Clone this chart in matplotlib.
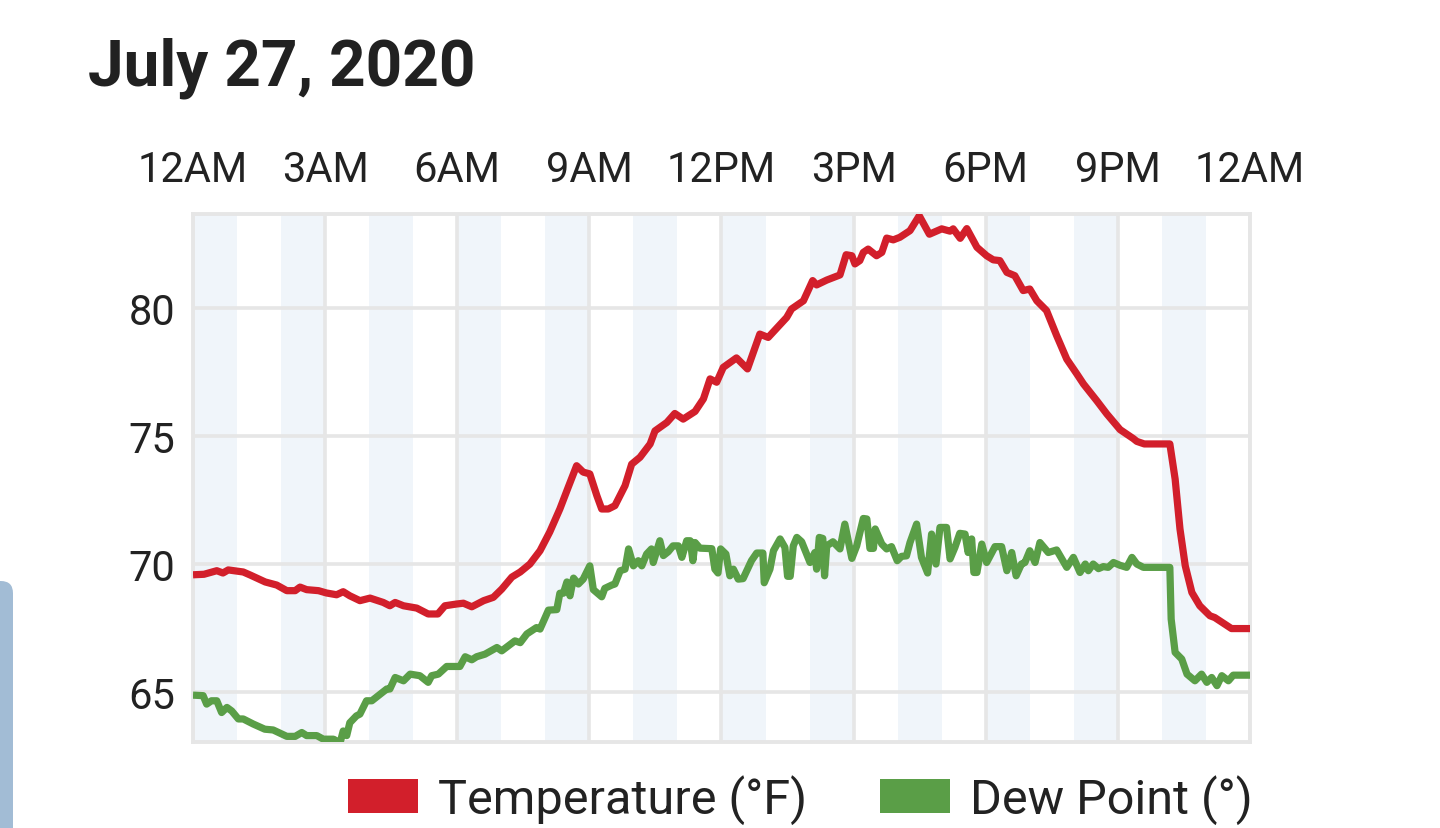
import matplotlib.pyplot as plt
from matplotlib.patches import Patch, FancyBboxPatch

plt.rcParams['font.family'] = ['Roboto', 'DejaVu Sans']

title = "July 27, 2020"
tick_hours = [0, 3, 6, 9, 12, 15, 18, 21, 24]
tick_labels = ["12AM", "3AM", "6AM", "9AM", "12PM", "3PM", "6PM", "9PM", "12AM"]
y_ticks = [65, 70, 75, 80]

# hours since midnight, temperature (°F)
temp_hours = [
    0.0, 0.25, 0.54, 0.68, 0.8, 1.14, 1.3, 1.64, 1.9, 2.13, 2.32, 2.43, 2.58, 2.85,
    3.03, 3.26, 3.41, 3.56, 3.79, 4.02, 4.32, 4.47, 4.59, 4.78, 5.08, 5.34, 5.56,
    5.72, 5.99, 6.14, 6.33, 6.6, 6.82, 7.01, 7.24, 7.43, 7.65, 7.88, 8.1, 8.33,
    8.52, 8.71, 8.86, 9.01, 9.17, 9.28, 9.43, 9.58, 9.81, 9.96, 10.15, 10.38,
    10.49, 10.76, 10.94, 11.13, 11.4, 11.59, 11.74, 11.89, 12.04, 12.34, 12.59,
    12.87, 13.06, 13.48, 13.59, 13.86, 14.07, 14.16, 14.39, 14.69, 14.83, 14.96,
    15.03, 15.14, 15.22, 15.33, 15.52, 15.64, 15.75, 15.9, 16.05, 16.28, 16.49,
    16.72, 17.0, 17.19, 17.26, 17.42, 17.57, 17.8, 18.02, 18.17, 18.32, 18.48,
    18.66, 18.85, 19.0, 19.16, 19.38, 19.61, 19.84, 20.07, 20.22, 20.52, 20.75,
    21.05, 21.35, 21.43, 21.6, 22.18, 22.3, 22.41, 22.53, 22.68, 22.86, 23.09,
    23.2, 23.58, 24.0,
]
temperature = [
    69.58, 69.6, 69.74, 69.65, 69.77, 69.69, 69.57, 69.3, 69.18, 68.96, 68.96, 69.1,
    69.0, 68.96, 68.87, 68.8, 68.92, 68.76, 68.57, 68.67, 68.5, 68.37, 68.5, 68.37,
    68.28, 68.05, 68.05, 68.37, 68.44, 68.47, 68.33, 68.57, 68.7, 69.02, 69.49,
    69.69, 70.0, 70.52, 71.25, 72.15, 73.0, 73.84, 73.59, 73.52, 72.67, 72.15,
    72.15, 72.28, 73.06, 73.9, 74.17, 74.69, 75.2, 75.53, 75.88, 75.66, 75.96,
    76.45, 77.23, 77.1, 77.68, 78.05, 77.62, 78.98, 78.85, 79.63, 79.96, 80.28,
    81.07, 80.9, 81.09, 81.29, 82.08, 82.04, 81.72, 81.85, 82.17, 82.3, 82.04,
    82.17, 82.73, 82.66, 82.76, 83.02, 83.6, 82.88, 83.09, 83.0, 83.09, 82.72,
    83.1, 82.37, 82.04, 81.88, 81.85, 81.39, 81.26, 80.68, 80.74, 80.28, 79.9,
    78.92, 78.0, 77.42, 77.03, 76.38, 75.86, 75.25, 74.9, 74.79, 74.69, 74.69,
    73.32, 71.37, 69.93, 68.89, 68.37, 67.98, 67.91, 67.48, 67.48,
]

# hours since midnight, dew point (°)
dew_hours = [
    0.0, 0.23, 0.31, 0.42, 0.54, 0.65, 0.77, 0.88, 1.03, 1.14, 1.37, 1.63, 1.82,
    2.13, 2.32, 2.47, 2.58, 2.81, 2.96, 3.19, 3.34, 3.41, 3.49, 3.56, 3.71, 3.79,
    3.94, 4.06, 4.25, 4.4, 4.47, 4.59, 4.78, 4.93, 5.15, 5.34, 5.42, 5.57, 5.76,
    6.06, 6.18, 6.33, 6.44, 6.63, 6.9, 7.01, 7.31, 7.43, 7.58, 7.8, 7.88, 8.07,
    8.26, 8.33, 8.41, 8.49, 8.56, 8.64, 8.75, 8.86, 9.01, 9.09, 9.28, 9.35, 9.51,
    9.58, 9.7, 9.81, 9.89, 10.0, 10.11, 10.19, 10.3, 10.41, 10.45, 10.6, 10.68,
    10.79, 10.9, 11.02, 11.1, 11.21, 11.29, 11.35, 11.4, 11.51, 11.78, 11.85,
    11.92, 11.98, 12.1, 12.19, 12.27, 12.38, 12.49, 12.68, 12.8, 12.94, 12.97,
    13.1, 13.18, 13.33, 13.44, 13.5, 13.56, 13.63, 13.71, 13.82, 14.01, 14.12,
    14.16, 14.22, 14.3, 14.34, 14.39, 14.53, 14.69, 14.8, 14.96, 15.07, 15.22,
    15.3, 15.37, 15.45, 15.49, 15.64, 15.75, 15.86, 15.99, 16.09, 16.2, 16.28,
    16.43, 16.54, 16.68, 16.77, 16.87, 16.96, 17.11, 17.19, 17.3, 17.41, 17.53,
    17.6, 17.68, 17.73, 17.8, 17.91, 18.02, 18.21, 18.36, 18.48, 18.59, 18.69,
    18.81, 18.89, 19.0, 19.12, 19.23, 19.42, 19.61, 19.84, 19.99, 20.14, 20.26,
    20.33, 20.44, 20.56, 20.67, 20.78, 20.9, 21.05, 21.2, 21.32, 21.43, 21.58,
    22.18, 22.21, 22.3, 22.45, 22.57, 22.75, 22.9, 23.02, 23.13, 23.25, 23.36,
    23.51, 23.62, 24.0,
]
dew_point = [
    64.88, 64.86, 64.53, 64.66, 64.66, 64.2, 64.4, 64.26, 63.95, 63.95, 63.75,
    63.55, 63.52, 63.27, 63.27, 63.42, 63.3, 63.3, 63.16, 63.16, 63.02, 63.48,
    63.3, 63.8, 64.07, 64.14, 64.66, 64.66, 64.92, 65.12, 65.12, 65.57, 65.44,
    65.7, 65.64, 65.38, 65.64, 65.7, 66.0, 66.0, 66.38, 66.26, 66.38, 66.48,
    66.74, 66.61, 67.0, 66.93, 67.27, 67.52, 67.46, 68.2, 68.22, 68.86, 68.86,
    69.3, 68.76, 69.45, 69.22, 69.41, 69.93, 69.0, 68.72, 69.05, 69.18, 69.22,
    69.74, 69.8, 70.59, 69.93, 70.13, 69.93, 70.39, 70.59, 70.06, 70.91, 70.33,
    70.48, 70.71, 70.71, 70.26, 70.91, 70.91, 70.13, 70.84, 70.62, 70.6, 69.8,
    69.65, 70.59, 70.39, 69.54, 69.8, 69.41, 69.43, 70.13, 70.43, 70.43, 69.27,
    69.8, 70.52, 70.98, 70.65, 69.52, 69.52, 70.71, 71.04, 70.87, 70.06, 70.45,
    69.8, 71.04, 71.0, 69.54, 70.71, 70.87, 70.59, 71.56, 70.22, 70.71, 71.78,
    71.76, 70.61, 70.61, 71.37, 70.78, 70.59, 70.68, 70.13, 70.3, 70.32, 70.84,
    71.56, 70.26, 69.65, 71.17, 70.0, 71.43, 71.43, 70.2, 70.65, 71.2, 71.17,
    70.45, 70.98, 69.67, 69.67, 70.78, 70.06, 70.68, 70.68, 69.74, 70.45, 69.54,
    70.0, 70.06, 70.52, 70.06, 70.84, 70.45, 70.55, 69.87, 70.26, 69.67, 70.0,
    69.74, 70.0, 69.82, 69.9, 69.87, 70.06, 69.95, 69.87, 70.26, 70.0, 69.87,
    69.87, 67.85, 66.55, 66.29, 65.7, 65.44, 65.7, 65.38, 65.57, 65.25, 65.64,
    65.44, 65.66, 65.66,
]

RED = '#d21f2b'
GREEN = '#5a9e47'
GRID = '#e6e6e6'
BAND = '#f0f5fa'
TEXT = '#222222'

fig = plt.figure(figsize=(14.4, 8.29), dpi=100)
ax = fig.add_axes([193 / 1440, 1 - 743 / 829, (1250 - 193) / 1440, (743 - 215) / 829])

# alternating hour bands
for h in range(0, 24, 2):
    ax.axvspan(h, h + 1, color=BAND, lw=0, zorder=0)

ax.plot(temp_hours, temperature, color=RED, lw=5.2, solid_joinstyle='round',
        solid_capstyle='butt', zorder=3)
ax.plot(dew_hours, dew_point, color=GREEN, lw=5.2, solid_joinstyle='round',
        solid_capstyle='butt', zorder=3)

ax.set_xlim(0, 24)
ax.set_ylim(63.05, 83.67)
ax.set_xticks(tick_hours)
ax.set_xticklabels(tick_labels)
ax.set_yticks(y_ticks)
ax.xaxis.tick_top()
ax.tick_params(axis='x', length=0, pad=17, labelsize=30, labelcolor=TEXT)
ax.tick_params(axis='y', length=0, pad=13, labelsize=30, labelcolor=TEXT)
ax.grid(True, color=GRID, lw=2.6, zorder=1)
ax.set_axisbelow(True)
for s in ax.spines.values():
    s.set_color(GRID)
    s.set_linewidth(2.8)

fig.text(88 / 1440, 1 - 68 / 829, title, fontsize=46, fontweight='bold',
         color='#212121', va='center', ha='left')

handles = [Patch(facecolor=RED, edgecolor='none', label='Temperature (°F)'),
           Patch(facecolor=GREEN, edgecolor='none', label='Dew Point (°)')]
fig.legend(handles=handles, loc='center', bbox_to_anchor=(800 / 1440, 1 - 800 / 829),
           ncol=2, frameon=False, fontsize=35, handlelength=1.45, handleheight=0.72,
           handletextpad=0.4, columnspacing=1.5, borderpad=0, labelcolor=TEXT)

# side panel edge peeking in at the left
panel = FancyBboxPatch((-0.02, -0.05), 0.02 + 13 / 1440, 0.05 + 1 - 582 / 829,
                       boxstyle='round,pad=0,rounding_size=0.0085',
                       mutation_aspect=1440 / 829, transform=fig.transFigure,
                       facecolor='#a2bcd5', edgecolor='none')
fig.patches.append(panel)

fig.savefig('out.png', dpi=100)
